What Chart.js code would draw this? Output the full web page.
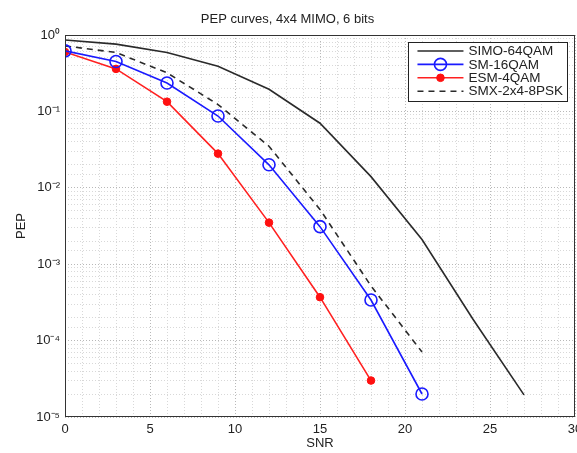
<!DOCTYPE html>
<html><head><meta charset="utf-8">
<script src="https://cdn.jsdelivr.net/npm/chart.js@4.4.0/dist/chart.umd.min.js"></script>
<style>html,body{margin:0;padding:0;overflow:hidden;background:#fff;width:577px;height:453px}canvas{display:block}</style>
</head><body>
<canvas id="c" width="592" height="453" style="width:592px;height:453px"></canvas>
<script>
// ---- data ----
const snrSIMO = [0, 3, 6, 9, 12, 15, 18, 21, 24, 27];
const pepSIMO = [0.86, 0.76, 0.59, 0.39, 0.195, 0.07, 0.014, 0.0021, 1.9e-4, 1.95e-5];
const snrSM = [0, 3, 6, 9, 12, 15, 18, 21];
const pepSM = [0.62, 0.45, 0.235, 0.087, 0.020, 0.0031, 3.4e-4, 2.0e-5];
const snrESM = [0, 3, 6, 9, 12, 15, 18];
const pepESM = [0.60, 0.36, 0.134, 0.028, 0.0035, 3.7e-4, 3.0e-5];
const snrSMX = [0, 3, 6, 9, 12, 15, 18, 21];
const pepSMX = [0.72, 0.59, 0.32, 0.123, 0.035, 0.0052, 5.2e-4, 7.1e-5];
const seriesNames = ['SIMO-64QAM', 'SM-16QAM', 'ESM-4QAM', 'SMX-2x4-8PSK'];
const xTickLabels = [0, 5, 10, 15, 20, 25, 30];
const yDecades = [0, -1, -2, -3, -4, -5];
const titleText = 'PEP curves, 4x4 MIMO, 6 bits';
const xTitle = 'SNR';
const yTitle = 'PEP';

const FONT = '"Liberation Sans", Arial, sans-serif';
const supMap = {'0':'⁰','1':'¹','2':'²','3':'³','4':'⁴','5':'⁵','6':'⁶','7':'⁷','8':'⁸','9':'⁹','-':'⁻'};
const supText = n => String(n).split('').map(c => supMap[c]).join('');
const pts = (xs, ys) => xs.map((x, i) => ({x, y: ys[i]}));

const boxLegend = {
  id: 'boxLegend',
  afterDraw(chart) {
    const ctx = chart.ctx, ca = chart.chartArea;
    const ds = chart.data.datasets;
    ctx.save();
    ctx.font = '13.5px ' + FONT;
    const tw = Math.max(...ds.map(d => ctx.measureText(d.label).width));
    const sampleW = 46, rowH = 13.4;
    const w = 9 + sampleW + 5 + tw + 4;
    const h = ds.length * rowH + 5;
    const x1 = ca.right - 8 - w, y1 = ca.top + 7;
    ctx.fillStyle = '#fff';
    ctx.fillRect(x1, y1, w, h);
    ctx.strokeStyle = '#222'; ctx.lineWidth = 1;
    ctx.strokeRect(Math.round(x1) + 0.5, Math.round(y1) + 0.5, Math.round(w), Math.round(h));
    ds.forEach((d, i) => {
      const cy = y1 + 9 + i * rowH;
      const sx = x1 + 9;
      ctx.strokeStyle = d.borderColor; ctx.lineWidth = d.borderWidth;
      ctx.setLineDash(d.borderDash || []);
      ctx.beginPath(); ctx.moveTo(sx, cy); ctx.lineTo(sx + sampleW, cy); ctx.stroke();
      ctx.setLineDash([]);
      if (d.pointRadius > 0) {
        ctx.beginPath(); ctx.arc(sx + sampleW / 2, cy, d.pointRadius, 0, Math.PI * 2);
        ctx.lineWidth = d.pointBorderWidth;
        ctx.strokeStyle = d.pointBorderColor;
        if (d.pointBackgroundColor !== 'transparent') { ctx.fillStyle = d.pointBackgroundColor; ctx.fill(); }
        ctx.stroke();
      }
      ctx.fillStyle = '#222'; ctx.textBaseline = 'middle'; ctx.textAlign = 'left';
      ctx.fillText(d.label, sx + sampleW + 5, cy + 0.5);
    });
    ctx.restore();
  }
};
const frame = {
  id: 'frame',
  afterDatasetsDraw(chart) {
    const ctx = chart.ctx, ca = chart.chartArea;
    ctx.save(); ctx.strokeStyle = '#333'; ctx.lineWidth = 1;
    ctx.strokeRect(Math.round(ca.left) + 0.5, Math.round(ca.top) + 0.5, Math.round(ca.right - ca.left) - 1, Math.round(ca.bottom - ca.top) - 1);
    ctx.restore();
  }
};

const isDecade = v => { const e = Math.log10(v); return Math.abs(e - Math.round(e)) < 1e-9; };

new Chart(document.getElementById('c'), {
  type: 'line',
  data: {
    datasets: [
      { label: seriesNames[0], data: pts(snrSIMO, pepSIMO), borderColor: '#2a2a2a', borderWidth: 1.6,
        pointRadius: 0, pointBorderWidth: 0, pointBorderColor: '#222', pointBackgroundColor: 'transparent', tension: 0 },
      { label: seriesNames[1], data: pts(snrSM, pepSM), borderColor: '#1a1aff', borderWidth: 1.6,
        pointRadius: 6, pointBorderWidth: 1.6, pointBorderColor: '#1a1aff', pointBackgroundColor: 'transparent', tension: 0 },
      { label: seriesNames[2], data: pts(snrESM, pepESM), borderColor: '#ff2020', borderWidth: 1.6,
        pointRadius: 3.8, pointBorderWidth: 1, pointBorderColor: '#ff1010', pointBackgroundColor: '#ff1010', tension: 0 },
      { label: seriesNames[3], data: pts(snrSMX, pepSMX), borderColor: '#2a2a2a', borderWidth: 1.6, borderDash: [6, 5],
        pointRadius: 0, pointBorderWidth: 0, pointBorderColor: '#222', pointBackgroundColor: 'transparent', tension: 0 }
    ]
  },
  options: {
    responsive: false, animation: false, events: [],
    layout: { padding: { left: 0, right: 17, top: 0, bottom: 0 } },
    plugins: {
      legend: { display: false }, tooltip: { enabled: false },
      title: { display: true, text: titleText, color: '#222', font: { family: FONT, size: 13, weight: 'normal' },
               padding: { top: 12, bottom: 7.4 } }
    },
    scales: {
      x: {
        type: 'linear', min: 0, max: 30,
        afterFit: s => { s.height = 36; },
        ticks: { stepSize: 1, autoSkip: false, maxRotation: 0, padding: 5, color: '#222',
                 font: { family: FONT, size: 13 },
                 callback: v => xTickLabels.includes(v) ? String(v) : '' },
        grid: { drawTicks: false, color: c => (c.tick && c.tick.value % 5 === 0) ? '#b8b8b8' : '#d8d8d8', lineWidth: 1 },
        border: { display: false, dash: [1, 2] },
        title: { display: true, text: xTitle, color: '#222', font: { family: FONT, size: 13 }, padding: { top: 0, bottom: 2 } }
      },
      y: {
        type: 'logarithmic', min: 1e-5, max: 1,
        afterFit: s => { s.width = 65; },
        ticks: { autoSkip: false, padding: 5, color: '#222', font: { family: FONT, size: 13 },
                 callback: v => isDecade(v) && yDecades.includes(Math.round(Math.log10(v))) ? '10' + supText(Math.round(Math.log10(v))) : '' },
        grid: { drawTicks: false, color: c => (c.tick && isDecade(c.tick.value)) ? '#b8b8b8' : '#d8d8d8', lineWidth: 1 },
        border: { display: false, dash: [1, 2] },
        title: { display: true, text: yTitle, color: '#222', font: { family: FONT, size: 13 }, padding: { top: 14, bottom: 0 } }
      }
    }
  },
  plugins: [frame, boxLegend]
});
</script>
</body></html>
